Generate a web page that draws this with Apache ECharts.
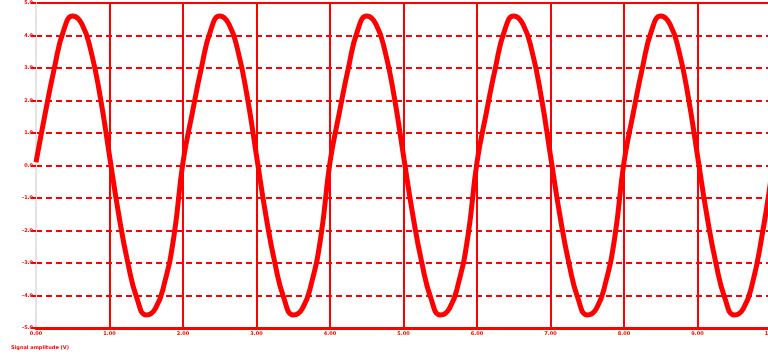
<!DOCTYPE html>
<html>
<head>
<meta charset="utf-8">
<script src="https://cdn.jsdelivr.net/npm/echarts@6/dist/echarts.min.js"></script>
<style>
html,body{margin:0;padding:0;background:#fff;}
#c{width:768px;height:358px;}
</style>
</head>
<body>
<div id="c"></div>
<script>
// x positions (time units) of the sampled points
const xValues = [
  0, 0.125, 0.25, 0.375, 0.5, 0.625, 0.75, 0.875,
  1, 1.125, 1.25, 1.375, 1.5, 1.625, 1.75, 1.875,
  2, 2.125, 2.25, 2.375, 2.5, 2.625, 2.75, 2.875,
  3, 3.125, 3.25, 3.375, 3.5, 3.625, 3.75, 3.875,
  4, 4.125, 4.25, 4.375, 4.5, 4.625, 4.75, 4.875,
  5, 5.125, 5.25, 5.375, 5.5, 5.625, 5.75, 5.875,
  6, 6.125, 6.25, 6.375, 6.5, 6.625, 6.75, 6.875,
  7, 7.125, 7.25, 7.375, 7.5, 7.625, 7.75, 7.875,
  8, 8.125, 8.25, 8.375, 8.5, 8.625, 8.75, 8.875,
  9, 9.125, 9.25, 9.375, 9.5, 9.625, 9.75, 9.875,
  10
];
// signal values
const yValues = [
  0.1, 1.6, 3.0, 4.15, 4.6, 4.35, 3.5, 2.1,
  0.3, -1.5, -3.0, -4.1, -4.6, -4.4, -3.6, -2.2,
  0.1, 1.6, 3.0, 4.15, 4.6, 4.35, 3.5, 2.1,
  0.3, -1.5, -3.0, -4.1, -4.6, -4.4, -3.6, -2.2,
  0.1, 1.6, 3.0, 4.15, 4.6, 4.35, 3.5, 2.1,
  0.3, -1.5, -3.0, -4.1, -4.6, -4.4, -3.6, -2.2,
  0.1, 1.6, 3.0, 4.15, 4.6, 4.35, 3.5, 2.1,
  0.3, -1.5, -3.0, -4.1, -4.6, -4.4, -3.6, -2.2,
  0.1, 1.6, 3.0, 4.15, 4.6, 4.35, 3.5, 2.1,
  0.3, -1.5, -3.0, -4.1, -4.6, -4.4, -3.6, -2.2,
  -0.4
];
const xTickLabels = ['0.00','1.00','2.00','3.00','4.00','5.00','6.00','7.00','8.00','9.00','10.0'];
const yTickLabels = ['-5.0','-4.0','-3.0','-2.0','-1.0','0.0','1.0','2.0','3.0','4.0','5.0'];
const axisTitle = 'Signal amplitude (V)';

const RED = '#ff0000';
const chart = echarts.init(document.getElementById('c'), null, {renderer: 'canvas'});
const lblStyle = {color: RED, fontSize: 5, fontWeight: 'bold', fontFamily: 'DejaVu Sans'};

chart.setOption({
  animation: false,
  backgroundColor: '#ffffff',
  title: {
    text: axisTitle,
    left: 6, bottom: 3,
    textStyle: {color: RED, fontSize: 5, fontWeight: 'bold', fontFamily: 'DejaVu Sans'}
  },
  grid: {
    left: 36, right: -3, top: 3, bottom: 30,
    show: true, borderColor: RED, borderWidth: 2,
    containLabel: false, outerBoundsMode: 'none'
  },
  xAxis: {
    type: 'value', min: 0, max: 10, interval: 1,
    axisLine: {show: true, onZero: false, lineStyle: {color: RED, width: 3}},
    axisTick: {show: false},
    axisLabel: Object.assign({margin: 3, formatter: (v) => xTickLabels[Math.round(v)]}, lblStyle),
    splitLine: {show: true, lineStyle: {color: RED, width: 2, type: 'solid'}}
  },
  yAxis: [{
    type: 'value', min: -5, max: 5, interval: 1,
    axisLine: {show: true, onZero: false, lineStyle: {color: RED, width: 2}},
    axisTick: {show: true, length: 5, inside: false, lineStyle: {color: RED, width: 2}},
    axisLabel: Object.assign({margin: 3, formatter: (v) => yTickLabels[Math.round(v) + 5]}, lblStyle),
    splitLine: {show: true, lineStyle: {color: RED, width: 2, type: [6, 4]}}
  }, {
    type: 'value', min: -5, max: 5, interval: 1, position: 'left', offset: 3,
    axisLine: {show: true, lineStyle: {color: '#e4e4e4', width: 2}},
    axisTick: {show: false}, axisLabel: {show: false}, splitLine: {show: false}
  }],
  series: [{
    type: 'line',
    data: xValues.map((x, i) => [x, yValues[i]]),
    smooth: true,
    showSymbol: false,
    lineStyle: {color: RED, width: 5},
    clip: true
  }]
});
</script>
</body>
</html>
